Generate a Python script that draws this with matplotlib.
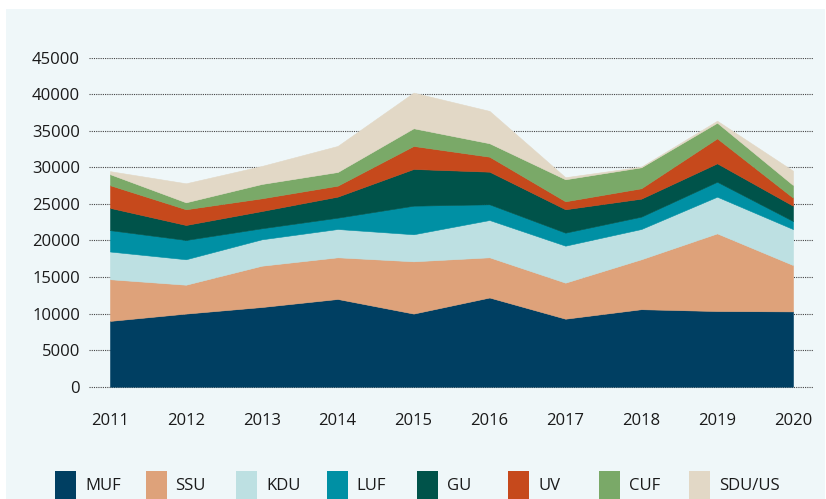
import matplotlib
matplotlib.use("Agg")
import matplotlib.pyplot as plt
from matplotlib.patches import Rectangle

years = [2011, 2012, 2013, 2014, 2015, 2016, 2017, 2018, 2019, 2020]
labels = ["MUF", "SSU", "KDU", "LUF", "GU", "UV", "CUF", "SDU/US"]
muf = [9000, 10000, 10900, 12000, 10000, 12200, 9300, 10600, 10350, 10300]
ssu = [5700, 3950, 5650, 5700, 7150, 5500, 4930, 6830, 10620, 6340]
kdu = [3790, 3480, 3610, 3870, 3700, 5100, 5060, 4140, 5020, 4920]
luf = [2920, 2640, 1510, 1550, 3910, 2150, 1780, 1690, 2040, 1100]
gu = [3050, 2050, 2360, 2880, 5020, 4460, 3200, 2460, 2520, 2090]
uv = [3100, 2150, 1740, 1500, 3150, 2050, 1090, 1420, 3420, 1100]
cuf = [1510, 950, 1960, 1870, 2420, 1840, 3010, 2870, 2140, 1730]
sdu = [410, 2600, 2460, 3560, 4870, 4420, 280, 90, 270, 1960]
yticks = [0, 5000, 10000, 15000, 20000, 25000, 30000, 35000, 40000, 45000]

colors = ["#003f62", "#dea27a", "#bde0e2", "#0090a4", "#00534a", "#c6491c", "#7aa968", "#e2d8c6"]
bg = "#eff7f9"

plt.rcParams["font.family"] = ["Open Sans", "DejaVu Sans"]

W, H = 826, 499
fig = plt.figure(figsize=(W / 100, H / 100), dpi=100)
fig.patch.set_facecolor("white")
fig.add_artist(Rectangle((6 / W, 0), 1 - 7 / W, (H - 9) / H, transform=fig.transFigure,
                         facecolor=bg, edgecolor="none", zorder=0))

ax_left, ax_right = 89, 813
ax_top, ax_bot = 57.7, 389.3
ax = fig.add_axes([ax_left / W, (H - ax_bot) / H, (ax_right - ax_left) / W, (ax_bot - ax_top) / H])
ax.set_facecolor("none")

series = [muf, ssu, kdu, luf, gu, uv, cuf, sdu]
polys = ax.stackplot(years, *series, colors=colors, linewidth=0.4, zorder=2)
for p, c in zip(polys, colors):
    p.set_edgecolor(c)

px_per_year = (793 - 110) / 9
ax.set_xlim(2011 - (110 - ax_left) / px_per_year, 2020 + (ax_right - 793) / px_per_year)
ax.set_ylim(-356, 45000)
ax.set_yticks(yticks)
ax.set_yticklabels([str(v) for v in yticks])
ax.set_xticks(years)
ax.set_xticklabels([str(y) for y in years])
ax.set_axisbelow(True)
ax.grid(axis="y", color="#444444", linestyle=(0, (1, 1)), linewidth=0.8, zorder=0)
ax.grid(axis="x", visible=False)
for s in ax.spines.values():
    s.set_visible(False)
ax.tick_params(axis="both", length=0, labelsize=12, colors="#1a1a1a")
ax.tick_params(axis="y", pad=6.5)
ax.tick_params(axis="x", pad=17)

# legend
x0 = 55
step = 90.6
for i, (lab, c) in enumerate(zip(labels, colors)):
    x = x0 + i * step
    fig.add_artist(Rectangle((x / W, 0), 21 / W, 28 / H, transform=fig.transFigure,
                             facecolor=c, edgecolor="none", zorder=3))
    fig.text((x + 30) / W, (H - 486) / H, lab, fontsize=12, color="#1a1a1a",
             ha="left", va="center")

fig.savefig("out.png", dpi=100, facecolor=fig.get_facecolor())
